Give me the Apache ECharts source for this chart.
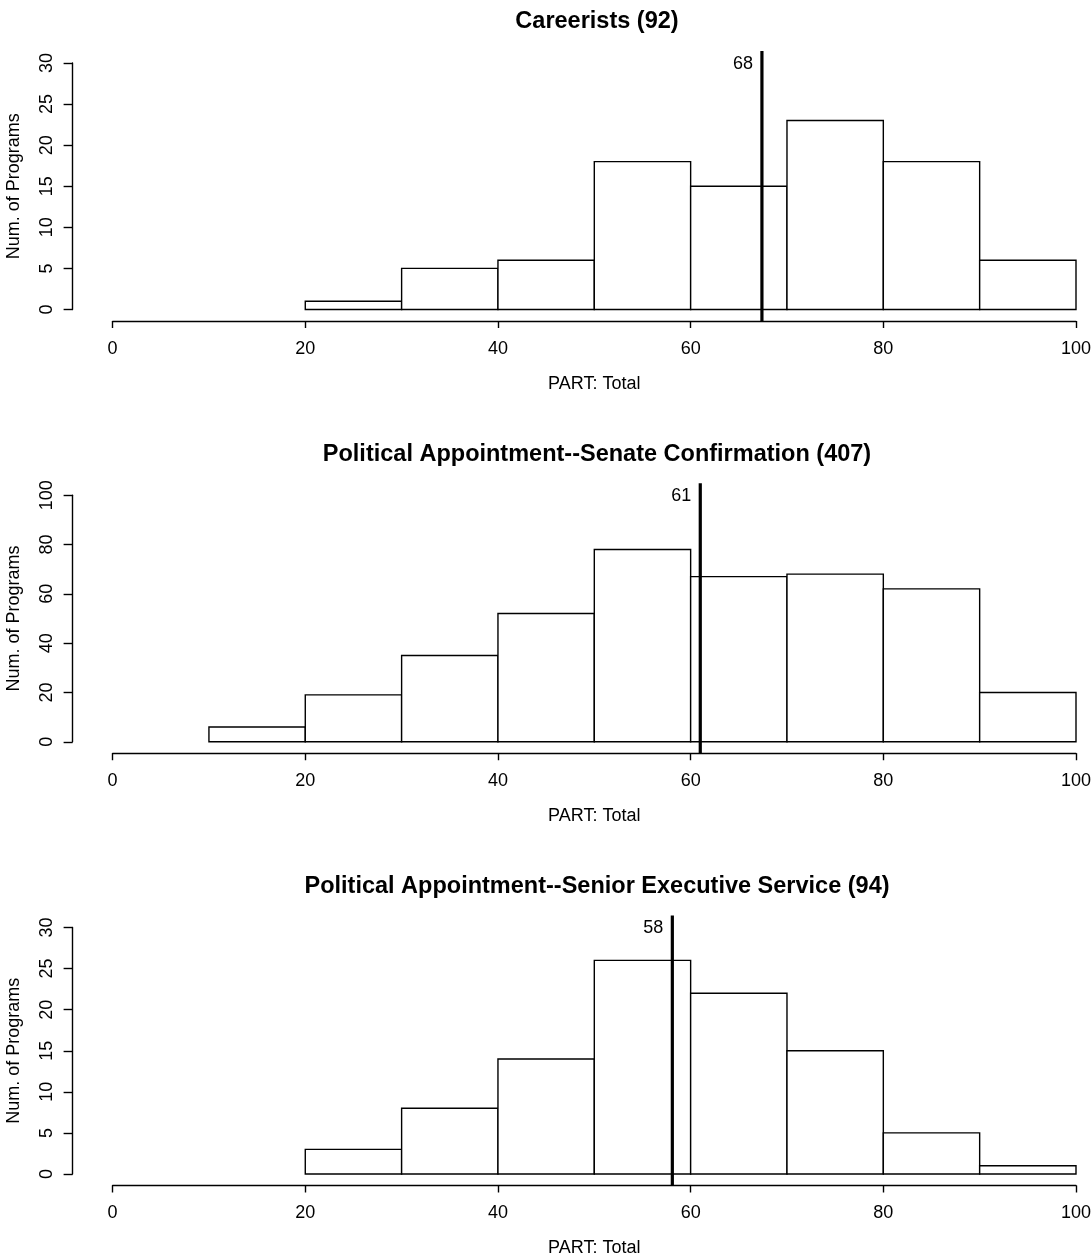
<!DOCTYPE html>
<html>
<head>
<meta charset="utf-8">
<script src="https://cdn.jsdelivr.net/npm/echarts@6/dist/echarts.min.js"></script>
<style>
  html, body { margin: 0; padding: 0; background: #fff; }
  #main { width: 1092px; height: 1260px; }
</style>
</head>
<body>
<div id="main"></div>
<script>
// histogram data (bins of width 10 over 0..100, null = outside the histogram range)
const binEdges = [0, 10, 20, 30, 40, 50, 60, 70, 80, 90, 100];
const careeristCounts = [null, null, 1, 5, 6, 18, 15, 23, 18, 6];
const senateCounts = [null, 6, 19, 35, 52, 78, 67, 68, 62, 20];
const sesCounts = [null, null, 3, 8, 14, 26, 22, 15, 5, 1];

const panelTitles = [
    'Careerists (92)',
    'Political Appointment--Senate Confirmation (407)',
    'Political Appointment--Senior Executive Service (94)'
];
const yMaxes = [30, 100, 30];
const yIntervals = [5, 20, 5];
const medians = [67.4, 61.0, 58.1];
const medianLabels = ['68', '61', '58'];

const allCounts = [careeristCounts, senateCounts, sesCounts];

const FONT = 'Liberation Sans, Arial, sans-serif';
const panelTop = 63;      // y of ymax in first panel
const panelStep = 432.25; // distance between panels
const plotH = 246.5;

const chart = echarts.init(document.getElementById('main'), null, { renderer: 'canvas' });

const titles = [], grids = [], xAxes = [], yAxes = [], series = [];

allCounts.forEach((counts, i) => {
    const top = panelTop + i * panelStep;

    titles.push({
        text: panelTitles[i],
        left: 592, top: top - 58, textAlign: 'center',
        textStyle: { fontFamily: FONT, fontSize: 23.5, fontWeight: 'bold', color: '#000' }
    });

    grids.push({
        left: 112.6, right: 16, top: top, height: plotH,
        containLabel: false, outerBoundsMode: 'none'
    });

    xAxes.push({
        type: 'value', gridIndex: i, min: 0, max: 100, interval: 20,
        offset: 11.5,
        name: 'PART: Total', nameLocation: 'middle', nameGap: 54,
        nameTextStyle: { fontFamily: FONT, fontSize: 18, color: '#000' },
        axisLine: { show: true, onZero: false, lineStyle: { color: '#000', width: 1.4 } },
        axisTick: { show: true, length: 7, lineStyle: { color: '#000', width: 1.4 } },
        axisLabel: {
            fontFamily: FONT, fontSize: 18, color: '#000', margin: 19,
            showMinLabel: true, showMaxLabel: true
        },
        splitLine: { show: false }
    });

    yAxes.push({
        type: 'value', gridIndex: i, min: 0, max: yMaxes[i], interval: yIntervals[i],
        offset: 40,
        name: 'Num. of Programs', nameLocation: 'middle', nameGap: 49.5,
        nameTextStyle: { fontFamily: FONT, fontSize: 18, color: '#000' },
        axisLine: { show: true, onZero: false, lineStyle: { color: '#000', width: 1.4 } },
        axisTick: { show: true, length: 9, lineStyle: { color: '#000', width: 1.4 } },
        axisLabel: { fontFamily: FONT, fontSize: 18, color: '#000', margin: 17, rotate: 90 },
        splitLine: { show: false }
    });

    const bins = [];
    counts.forEach((c, k) => {
        if (c !== null) bins.push([binEdges[k], binEdges[k + 1], c]);
    });

    series.push({
        type: 'custom', xAxisIndex: i, yAxisIndex: i, clip: false, silent: true,
        encode: { x: [0, 1], y: 2 },
        data: bins,
        renderItem: (params, api) => {
            const p0 = api.coord([api.value(0), 0]);
            const p1 = api.coord([api.value(1), api.value(2)]);
            return {
                type: 'rect',
                shape: { x: p0[0], y: p1[1], width: p1[0] - p0[0], height: p0[1] - p1[1] },
                style: { fill: '#fff', stroke: '#000', lineWidth: 1.4 }
            };
        }
    });

    // median line with its label
    const ymax = yMaxes[i];
    series.push({
        type: 'custom', xAxisIndex: i, yAxisIndex: i, clip: false, silent: true, z: 5,
        encode: { x: 0, y: 1 },
        data: [[medians[i], ymax]],
        renderItem: (params, api) => {
            const pt = api.coord([api.value(0), ymax]);
            const pb = api.coord([api.value(0), 0]);
            return {
                type: 'group',
                children: [
                    {
                        type: 'line',
                        shape: { x1: pt[0], y1: pt[1] - 12, x2: pb[0], y2: pb[1] + 11.5 },
                        style: { stroke: '#000', lineWidth: 3.2 }
                    },
                    {
                        type: 'text',
                        style: {
                            x: pt[0] - 9, y: pt[1] + 1, text: medianLabels[i],
                            align: 'right', verticalAlign: 'middle',
                            font: '18px ' + FONT, fill: '#000'
                        }
                    }
                ]
            };
        }
    });
});

chart.setOption({
    backgroundColor: '#fff',
    animation: false,
    title: titles,
    grid: grids,
    xAxis: xAxes,
    yAxis: yAxes,
    series: series
});
</script>
</body>
</html>
